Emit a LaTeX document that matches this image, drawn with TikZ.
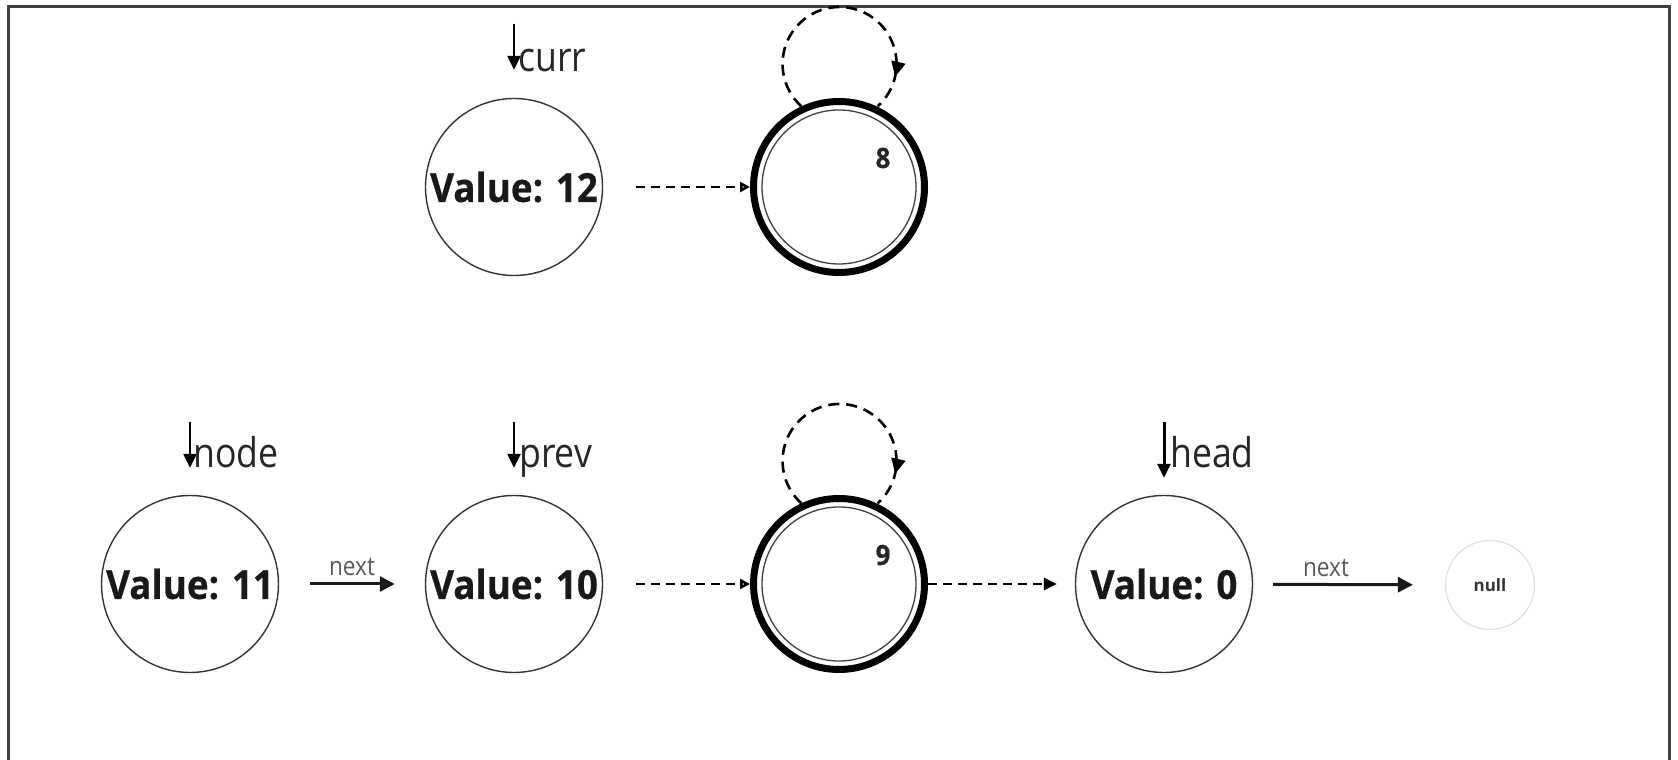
\documentclass[tikz,border=0pt]{standalone}
\usepackage{fontspec}
\setmainfont{Open Sans}
\newfontfamily\ptrfont[FakeStretch=0.87]{Open Sans}
\newfontfamily\valfont[FakeStretch=0.92,BoldFeatures={FakeBold=0.6}]{Open Sans}
\usetikzlibrary{arrows.meta,decorations.markings}

\begin{document}
\begin{tikzpicture}[x=1pt,y=1pt,
  frame/.style={draw=black!75,line width=3pt},
  listnode/.style={circle,draw=black!80,line width=1.4pt,minimum size=177pt,inner sep=0pt,
    font=\valfont\bfseries\fontsize{40}{48}\selectfont,text=black!90},
  acceptnode/.style={circle,draw=black,line width=7pt,minimum size=171pt,inner sep=0pt},
  acceptinner/.style={circle,draw=black!75,line width=1.3pt,minimum size=154pt,inner sep=0pt},
  nullnode/.style={circle,draw=black!12,line width=1.2pt,minimum size=89pt,inner sep=0pt,
    font=\bfseries\fontsize{17}{20}\selectfont,text=black!80},
  idlabel/.style={inner sep=0pt,font=\valfont\bfseries\fontsize{28}{32}\selectfont,text=black!85},
  ptrlabel/.style={anchor=base west,inner sep=0pt,font=\ptrfont\fontsize{41}{48}\selectfont,text=black!85},
  nextlabel/.style={anchor=base,inner sep=0pt,yshift=8pt,font=\ptrfont\fontsize{26}{30}\selectfont,text=black!65},
  ptr/.style={draw=black,line width=2.4pt,-{Triangle[length=14pt,width=13pt]}},
  nextarrow/.style={draw=black!90,line width=3pt,-{Triangle[length=15pt,width=15pt]}},
  weakarrow/.style={draw=black,line width=2.6pt,dash pattern=on 9pt off 6pt,-{Triangle[open,length=10pt,width=10pt]}},
  dasharrow/.style={draw=black,line width=2.6pt,dash pattern=on 9pt off 6pt,-{Triangle[length=13pt,width=12pt]}},
  selfloop/.style={draw=black,line width=2.6pt,dash pattern=on 11pt off 7pt,postaction={decorate},
    decoration={markings,mark=at position 0.873 with {\arrow{Triangle[length=15pt,width=14pt]}}}},
]
\useasboundingbox (0,0) rectangle (1678,760);

% outer frame (open at the bottom)
\draw[frame] (8.5,0) -- (8.5,753) -- (1669.5,753) -- (1669.5,0);

% ---- upper row ----
\node[listnode] (v12) at (514,573) {Value: 12};
\node[acceptnode] (n8) at (839,573) {};
\node[acceptinner] (n8in) at (n8) {};
\node[idlabel] (id8) at (883,602) {8};
\draw[selfloop] (n8.115) arc[start angle=228,end angle=-48,radius=57pt];
\draw[weakarrow,shorten <=33pt] (v12) -- (n8);

\coordinate (currtail) at (514,736);
\draw[ptr,shorten >=28pt] (currtail) -- (v12.north);
\node[ptrlabel] (currlbl) at (518,688) {curr};

% ---- lower row ----
\node[listnode] (v11) at (190,176) {Value: 11};
\node[listnode] (v10) at (514,176) {Value: 10};
\node[acceptnode] (n9) at (839,176) {};
\node[acceptinner] (n9in) at (n9) {};
\node[idlabel] (id9) at (883,205) {9};
\node[listnode] (v0) at (1164,176) {Value: 0};
\node[nullnode] (nil) at (1490,175) {null};

\draw[selfloop] (n9.115) arc[start angle=228,end angle=-48,radius=57pt];

\draw[nextarrow,shorten <=31pt,shorten >=30pt] (v11) -- node[nextlabel,pos=0.5] {next} (v10);
\draw[weakarrow,shorten <=33pt] (v10) -- (n9);
\draw[dasharrow,shorten >=18pt] (n9) -- (v0);
\draw[nextarrow,shorten <=20pt,shorten >=32pt] (v0) -- node[nextlabel,pos=0.38] {next} (nil);

% pointer labels
\coordinate (nodetail) at (190,338);
\coordinate (prevtail) at (514,338);
\coordinate (headtail) at (1164,338);
\draw[ptr,shorten >=27pt] (nodetail) -- (v11.north);
\draw[ptr,shorten >=27pt] (prevtail) -- (v10.north);
\draw[ptr,line width=3pt,shorten >=17pt] (headtail) -- (v0.north);
\node[ptrlabel] (nodelbl) at (193,292) {node};
\node[ptrlabel] (prevlbl) at (519,292) {prev};
\node[ptrlabel] (headlbl) at (1170,292) {head};
\end{tikzpicture}
\end{document}
